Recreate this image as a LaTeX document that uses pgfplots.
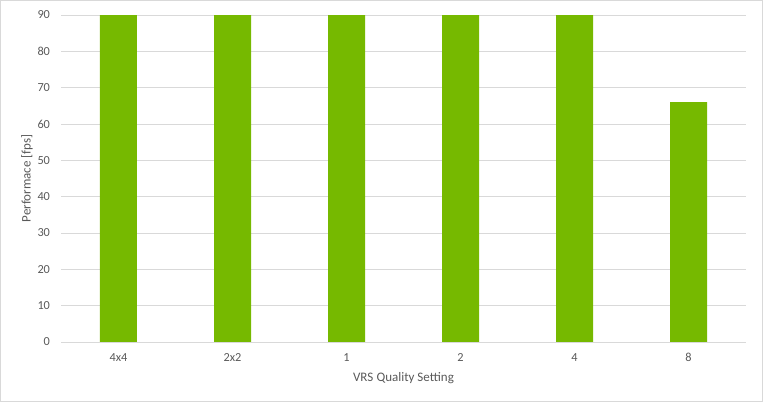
\documentclass[border=0pt]{standalone}
\usepackage{fontspec}
\setmainfont{Carlito}
\usepackage{pgfplots}
\pgfplotsset{compat=1.18}
\definecolor{bargreen}{HTML}{76B900}
\definecolor{gridgray}{HTML}{D9D9D9}
\definecolor{textgray}{HTML}{595959}
\definecolor{framegray}{HTML}{D9D9D9}

\begin{document}
\begin{tikzpicture}
% chart frame, 763 x 402 px (1px = 1bp)
\draw[framegray, line width=1bp] (-61bp,-59.5bp) rectangle (701bp,341.5bp);
\begin{axis}[
    at={(0,0)}, anchor=south west,
    scale only axis,
    width=684bp, height=327bp,
    xmin=-0.5, xmax=5.5,
    ymin=0, ymax=90,
    ybar, bar width=37bp,
    xtick=data,
    xticklabels={4x4,2x2,1,2,4,8},
    ytick={0,10,...,90},
    ymajorgrids,
    grid style={draw=gridgray, line width=0.75bp},
    axis line style={draw=none},
    major tick length=0pt,
    /pgf/number format/assume math mode=true,
    tick label style={text=textgray, font=\fontsize{12.3bp}{14bp}\selectfont},
    yticklabel shift=8bp,
    xticklabel shift=8bp,
    every axis x label/.style={at={(axis description cs:0.5,0)}, yshift=-36bp, anchor=center},
    every axis y label/.style={at={(axis description cs:0,0.5)}, xshift=-34.5bp, rotate=90, anchor=center},
    label style={text=textgray, font=\fontsize{13bp}{15bp}\selectfont},
    xlabel={VRS\hspace{0.25em}Quality Setting},
    ylabel={Performace [fps]},
]
\addplot[fill=bargreen, draw=none] coordinates {(0,90)(1,90)(2,90)(3,90)(4,90)(5,66)};
\end{axis}
\end{tikzpicture}
\end{document}
